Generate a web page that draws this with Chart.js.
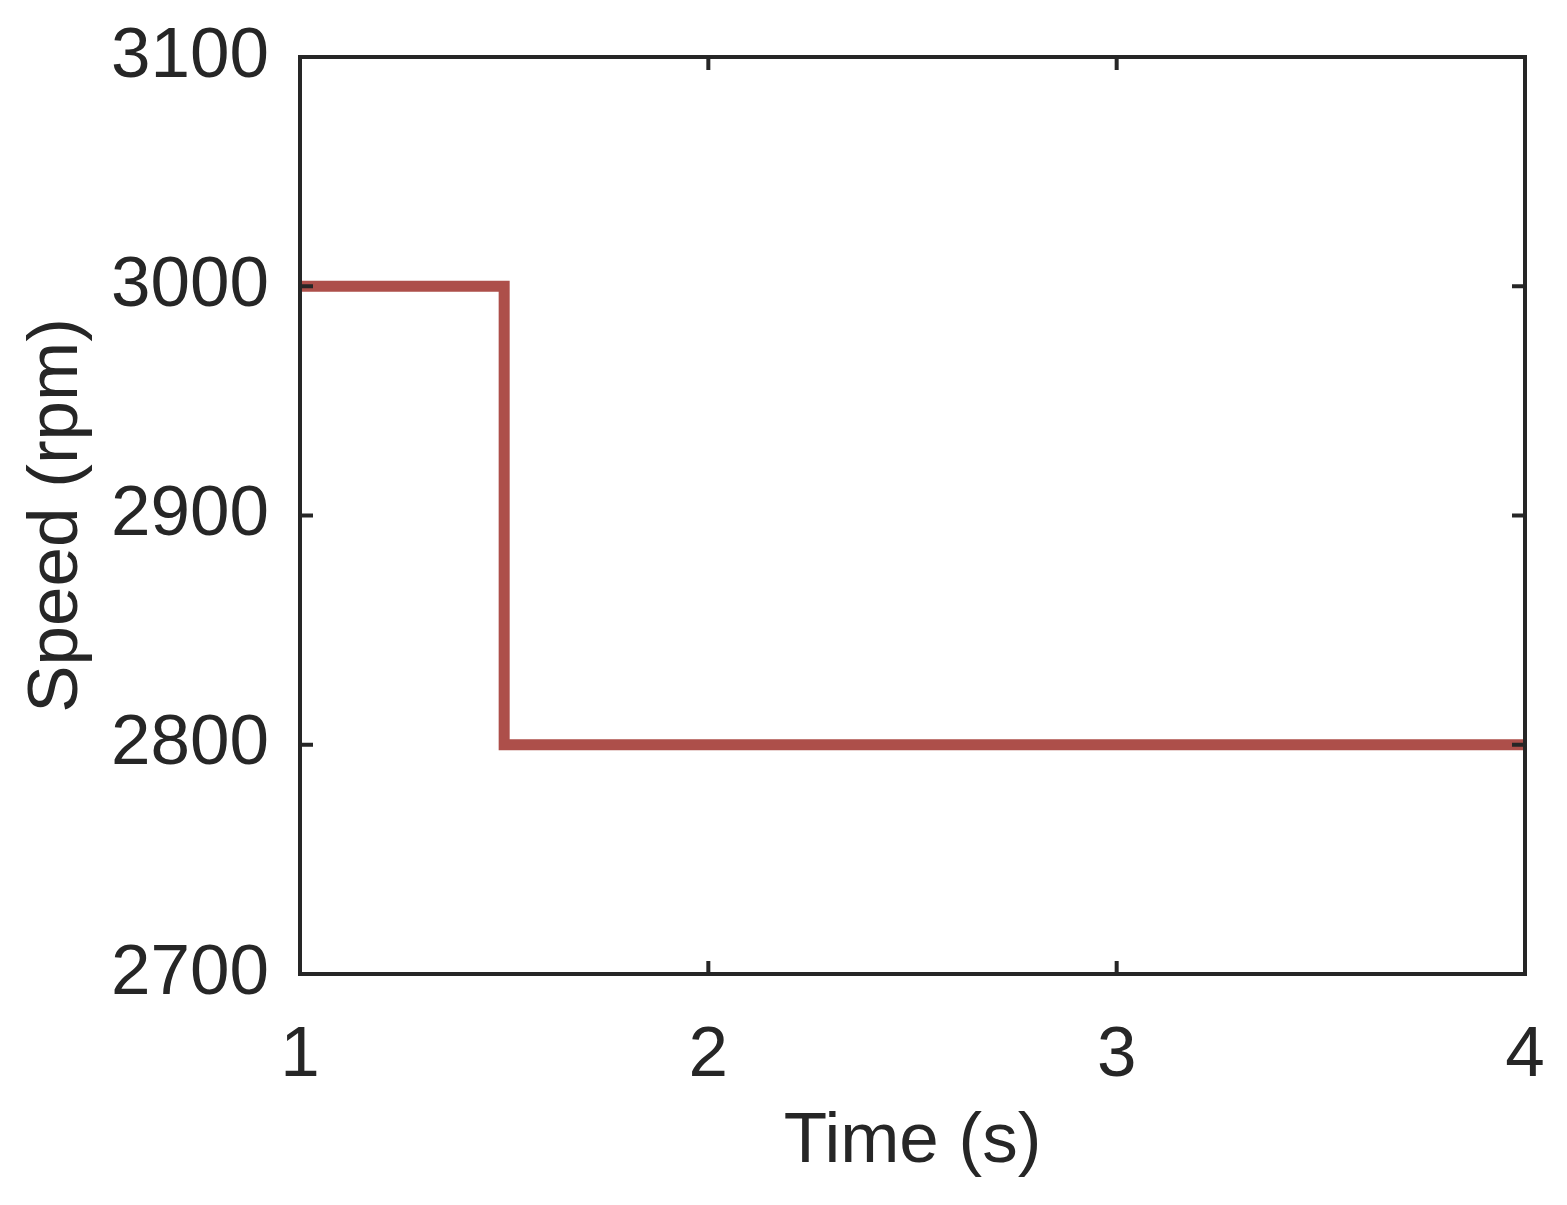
<!DOCTYPE html>
<html>
<head>
<meta charset="utf-8">
<script src="https://cdn.jsdelivr.net/npm/chart.js@4"></script>
<style>
  body { margin: 0; background: #fff; }
</style>
</head>
<body>
<canvas id="c1" width="1567" height="1205"></canvas>
<script>
// step response: speed drops at t = 1.5 s
var timeS = [1, 1.5, 1.5, 4];
var speedRpm = [3000, 3000, 2800, 2800];
var xTicks = [1, 2, 3, 4];
var yTicks = [2700, 2800, 2900, 3000, 3100];

var ink = '#262626';
var fontFam = '"Liberation Sans", Arial, sans-serif';

// box around the plot with inward ticks on all four sides
var framePlugin = {
  id: 'frame',
  afterDraw: function(chart) {
    var ctx = chart.ctx, a = chart.chartArea;
    var x = chart.scales.x, y = chart.scales.y;
    var len = 13;
    ctx.save();
    ctx.strokeStyle = ink;
    ctx.lineWidth = 4;
    ctx.strokeRect(a.left, a.top, a.right - a.left, a.bottom - a.top);
    ctx.beginPath();
    xTicks.forEach(function(v) {
      var px = x.getPixelForValue(v);
      ctx.moveTo(px, a.bottom); ctx.lineTo(px, a.bottom - len);
      ctx.moveTo(px, a.top); ctx.lineTo(px, a.top + len);
    });
    yTicks.forEach(function(v) {
      var py = y.getPixelForValue(v);
      ctx.moveTo(a.left, py); ctx.lineTo(a.left + len, py);
      ctx.moveTo(a.right, py); ctx.lineTo(a.right - len, py);
    });
    ctx.stroke();
    ctx.restore();
  }
};

var ctx = document.getElementById('c1');
var config = {
  type: 'scatter',
  data: {
    datasets: [{
      data: timeS.map(function(t, i) { return {x: t, y: speedRpm[i]}; }),
      showLine: true,
      borderColor: '#ad4f4a',
      borderWidth: 11,
      borderJoinStyle: 'miter',
      pointRadius: 0,
      fill: false
    }]
  },
  options: {
    responsive: false,
    animation: false,
    layout: { padding: { left: 0, top: 57, right: 42, bottom: 0 } },
    plugins: { legend: { display: false }, tooltip: { enabled: false } },
    scales: {
      x: {
        type: 'linear',
        min: 1, max: 4,
        afterBuildTicks: function(s) { s.ticks = xTicks.map(function(v) { return {value: v}; }); },
        afterFit: function(s) { s.height = 231; s.paddingLeft = 0; s.paddingRight = 0; },
        grid: { display: false },
        border: { display: false },
        ticks: {
          color: ink, padding: 32, maxRotation: 0,
          font: { family: fontFam, size: 71 },
          callback: function(v) { return String(v); }
        },
        title: {
          display: true,
          text: 'Time (s)',
          color: ink,
          padding: { top: 0, bottom: 20 },
          font: { family: fontFam, size: 71 }
        }
      },
      y: {
        type: 'linear',
        min: 2700, max: 3100,
        afterBuildTicks: function(s) { s.ticks = yTicks.map(function(v) { return {value: v}; }); },
        afterFit: function(s) { s.width = 300; s.paddingTop = 0; s.paddingBottom = 0; },
        grid: { display: false },
        border: { display: false },
        ticks: {
          color: ink, padding: 23,
          font: { family: fontFam, size: 71 },
          callback: function(v) { return String(v); }
        },
        title: {
          display: true,
          text: 'Speed (rpm)',
          color: ink,
          padding: { top: 15, bottom: 0 },
          font: { family: fontFam, size: 71 }
        }
      }
    }
  },
  plugins: [framePlugin]
};

var chart = new Chart(ctx, config);
</script>
</body>
</html>
